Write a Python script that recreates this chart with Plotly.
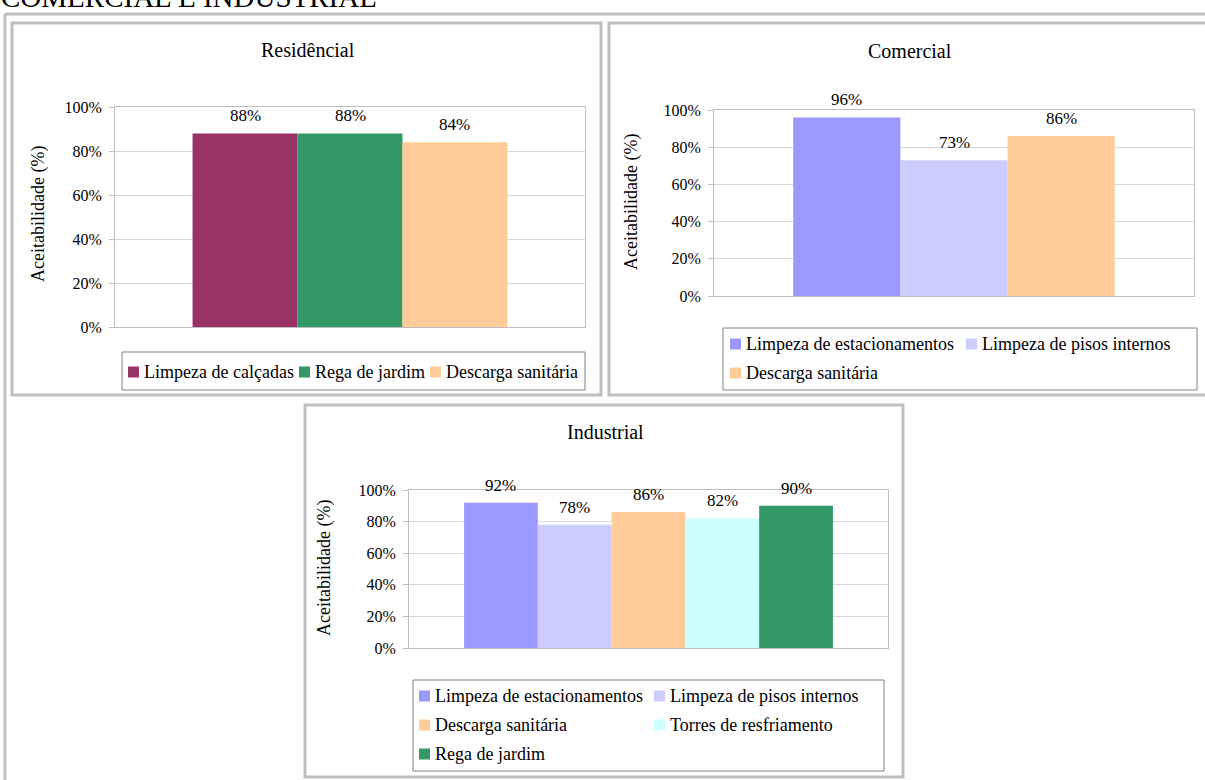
import plotly.graph_objects as go

W, H = 1205, 780
FONT = "Liberation Serif, Times New Roman, serif"

# ---------------- data ----------------
page_heading = "COMERCIAL E INDUSTRIAL"
axis_title = "Aceitabilidade (%)"

res_title = "Residêncial"
res_series = ["Limpeza de calçadas", "Rega de jardim", "Descarga sanitária"]
res_values = [0.88, 0.88, 0.84]

com_title = "Comercial"
com_series = ["Limpeza de estacionamentos", "Limpeza de pisos internos", "Descarga sanitária"]
com_values = [0.96, 0.73, 0.86]

ind_title = "Industrial"
ind_series = ["Limpeza de estacionamentos", "Limpeza de pisos internos", "Descarga sanitária",
              "Torres de resfriamento", "Rega de jardim"]
ind_values = [0.92, 0.78, 0.86, 0.82, 0.90]

colors = {
    "Limpeza de calçadas": "#993366",
    "Rega de jardim": "#339966",
    "Descarga sanitária": "#FFCC99",
    "Limpeza de estacionamentos": "#9999FF",
    "Limpeza de pisos internos": "#CCCCFF",
    "Torres de resfriamento": "#CCFFFF",
}

y_ticks = [0, 0.2, 0.4, 0.6, 0.8, 1.0]

# ---------------- layout helpers ----------------
def px_x(p):
    return p / W

def px_y(p):
    return 1 - p / H

BARGAP = 0.33

panels = [
    dict(title=res_title, series=res_series, values=res_values, ax="", cat="Residencial",
         box=(12, 23, 601, 395), plot=(115, 107, 585, 327), title_pos=(308, 50),
         ytitle_pos=(38, 214), xhalf=0.5,
         legend_box=(122, 352, 585, 390), legend_cols=[128, 299, 430], legend_rows=[372]),
    dict(title=com_title, series=com_series, values=com_values, ax="2", cat="Comercial",
         box=(609, 23, 1212, 395), plot=(714, 110, 1194, 296), title_pos=(910, 51),
         ytitle_pos=(632, 202), xhalf=0.5,
         legend_box=(723, 328, 1197, 390), legend_cols=[730, 966], legend_rows=[344, 373]),
    dict(title=ind_title, series=ind_series, values=ind_values, ax="3", cat="Industrial",
         box=(305, 405, 903, 777), plot=(409, 490, 888, 648), title_pos=(605, 432),
         ytitle_pos=(324, 568), xhalf=0.435,
         legend_box=(413, 680, 884, 771), legend_cols=[419, 654], legend_rows=[696, 725, 754]),
]

fig = go.Figure()
shapes = []
annotations = []
layout_axes = {}

# outer frame
shapes.append(dict(type="line", xref="paper", yref="paper", x0=px_x(5), x1=px_x(1210),
                   y0=px_y(14), y1=px_y(14), line=dict(color="#c0c0c0", width=3)))
shapes.append(dict(type="line", xref="paper", yref="paper", x0=px_x(5), x1=px_x(5),
                   y0=px_y(14), y1=px_y(790), line=dict(color="#c0c0c0", width=3)))

annotations.append(dict(text=page_heading, xref="paper", yref="paper", x=px_x(-1), y=px_y(15),
                        xanchor="left", yanchor="bottom", showarrow=False,
                        font=dict(family=FONT, size=29, color="black")))

for p in panels:
    ax = p["ax"]
    xa, ya = "x" + ax, "y" + ax
    n = len(p["series"])
    for i, (name, val) in enumerate(zip(p["series"], p["values"])):
        fig.add_trace(go.Bar(x=[p["cat"]], y=[val], name=name, xaxis=xa, yaxis=ya,
                             marker=dict(color=colors[name], line=dict(width=0)),
                             showlegend=False, hovertemplate="%{y:.0%}<extra>" + name + "</extra>"))
        # data label above the bar
        gw = 1 - BARGAP
        xc = -gw / 2 + (i + 0.5) * gw / n
        annotations.append(dict(text=f"{val:.0%}", x=xc, y=val, xref=xa, yref=ya,
                                xanchor="center", yanchor="bottom", yshift=6, showarrow=False,
                                font=dict(family=FONT, size=17, color="black")))

    l, t, r, b = p["plot"]
    layout_axes["xaxis" + ax] = dict(domain=[px_x(l), px_x(r)], anchor=ya, type="category",
                                     range=[-p["xhalf"], p["xhalf"]], showticklabels=False,
                                     showgrid=False, zeroline=False, showline=True, mirror=True,
                                     linecolor="#bfbfbf", linewidth=1, ticks="", fixedrange=True,
                                     automargin=False)
    layout_axes["yaxis" + ax] = dict(domain=[px_y(b), px_y(t)], anchor=xa, range=[0, 1],
                                     tickvals=y_ticks, tickformat=".0%", showgrid=True,
                                     gridcolor="#d9d9d9", gridwidth=1, zeroline=False,
                                     showline=True, mirror=True, linecolor="#bfbfbf", linewidth=1,
                                     ticks="outside", ticklen=5, tickcolor="#bfbfbf",
                                     ticklabelstandoff=4, automargin=False,
                                     tickfont=dict(family=FONT, size=16, color="black"),
                                     fixedrange=True)

    # panel border
    bl, bt, br, bb = p["box"]
    shapes.append(dict(type="rect", xref="paper", yref="paper", x0=px_x(bl), x1=px_x(br),
                       y0=px_y(bb), y1=px_y(bt), line=dict(color="#bfbfbf", width=3),
                       layer="below"))
    # title
    tx, ty = p["title_pos"]
    annotations.append(dict(text=p["title"], xref="paper", yref="paper", x=px_x(tx), y=px_y(ty),
                            xanchor="center", yanchor="middle", showarrow=False,
                            font=dict(family=FONT, size=20, color="black")))
    # y axis title
    yx, yy = p["ytitle_pos"]
    annotations.append(dict(text=axis_title, xref="paper", yref="paper", x=px_x(yx), y=px_y(yy),
                            xanchor="center", yanchor="middle", textangle=-90, showarrow=False,
                            font=dict(family=FONT, size=18, color="black")))
    # legend box
    ll, lt, lr, lb = p["legend_box"]
    shapes.append(dict(type="rect", xref="paper", yref="paper", x0=px_x(ll), x1=px_x(lr),
                       y0=px_y(lb), y1=px_y(lt), line=dict(color="#808080", width=1)))
    ncol = len(p["legend_cols"])
    for i, name in enumerate(p["series"]):
        cx = p["legend_cols"][i % ncol]
        cy = p["legend_rows"][i // ncol]
        shapes.append(dict(type="rect", xref="paper", yref="paper", x0=px_x(cx), x1=px_x(cx + 11),
                           y0=px_y(cy + 5.5), y1=px_y(cy - 5.5),
                           fillcolor=colors[name], line=dict(width=0)))
        annotations.append(dict(text=name, xref="paper", yref="paper", x=px_x(cx + 14), y=px_y(cy),
                                xanchor="left", yanchor="middle", showarrow=False,
                                font=dict(family=FONT, size=18, color="black")))

fig.update_layout(
    width=W, height=H, margin=dict(l=0, r=0, t=0, b=0, autoexpand=False),
    paper_bgcolor="white", plot_bgcolor="white",
    barmode="group", bargap=BARGAP, bargroupgap=0,
    font=dict(family=FONT, color="black"),
    shapes=shapes, annotations=annotations, showlegend=False,
    **layout_axes,
)

fig.write_html(
    "out.html",
    config={"displayModeBar": False},
    post_script="document.body.style.margin='0';document.body.style.overflow='hidden';",
)
